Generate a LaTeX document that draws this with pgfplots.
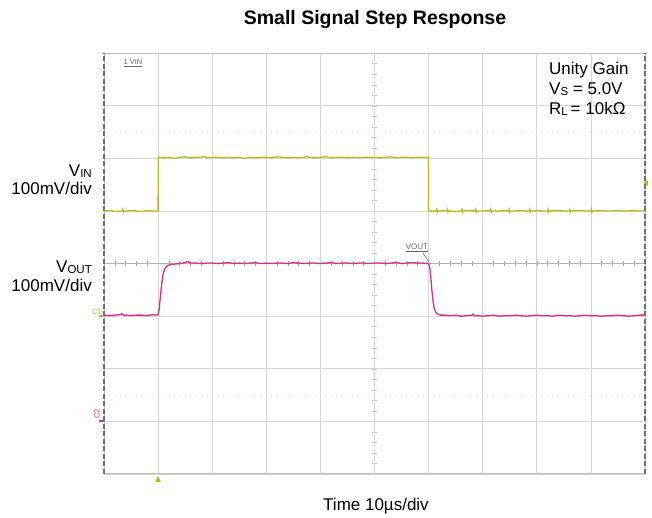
\documentclass[border=0pt]{standalone}
\usepackage{pgfplots}
\pgfplotsset{compat=1.18}
\usepackage{fontspec}
\setmainfont{Liberation Sans}
\definecolor{vin}{RGB}{185,185,25}
\definecolor{vout}{RGB}{228,40,140}
\definecolor{gridc}{RGB}{214,214,214}
\definecolor{bord}{RGB}{110,110,110}

\begin{document}
\begin{tikzpicture}
\path[use as bounding box] (-104pt,-44pt) rectangle (548pt,474pt);
\begin{scope}[x=54.1pt,y=52.6pt]
  \draw[gray!35, line width=0.9pt, dash pattern=on 0.9pt off 4.5pt] (0,6.5)--(10,6.5);
  \draw[gray!35, line width=0.9pt, dash pattern=on 0.9pt off 4.5pt] (0,1.5)--(10,1.5);
  \foreach \i in {0.2,0.4,...,9.9} {\draw[gray!75, line width=0.6pt] (\i,3.95)--(\i,4.05);}
  \foreach \j in {0.2,0.4,...,7.9} {\draw[gray!50, line width=0.5pt] (4.96,\j)--(5.04,\j);}
\end{scope}
\begin{axis}[at={(0pt,0pt)}, anchor=origin, x=54.1pt, y=52.6pt,
  xmin=0, xmax=10, ymin=0, ymax=8,
  xtick={0,...,10}, ytick={0,...,8}, xticklabels={}, yticklabels={},
  major tick length=0pt, grid=major,
  grid style={gridc, line width=0.8pt},
  axis line style={gridc!70!gray, line width=1pt},
  clip=false]
\draw[gray!60, line width=0.7pt] (axis cs:0,4)--(axis cs:10,4);
\draw[bord, line width=1.1pt, dash pattern=on 5pt off 2.5pt] (axis cs:0,0)--(axis cs:0,8);
\draw[bord, line width=1.1pt, dash pattern=on 5pt off 2.5pt] (axis cs:10,0)--(axis cs:10,8);
% V_IN
\addplot[vin, line width=1.3pt] coordinates {
(0,5.00)(0.1,5.01)(0.2,4.99)(0.3,5.00)(0.34,5.00)(0.35,5.03)(0.36,4.98)(0.37,5.00)(0.4,5.00)(0.5,5.01)(0.6,5.00)(0.7,4.99)(0.8,5.01)(0.9,5.00)(0.995,5.00)
(1.0,5.00)(1.003,6.02)
(1.05,6.02)(1.1,6.01)(1.2,6.02)(1.3,6.00)(1.4,6.02)(1.5,6.03)(1.6,6.01)(1.7,6.02)(1.8,6.02)(1.85,6.04)(1.9,6.01)(2.0,6.02)
(2.1,6.02)(2.2,6.01)(2.3,6.02)(2.4,6.01)(2.5,6.02)(2.6,6.00)(2.7,6.02)(2.8,6.01)(2.9,6.02)(3.0,6.02)
(3.1,6.01)(3.2,6.03)(3.3,6.02)(3.4,6.01)(3.5,6.02)(3.6,6.01)(3.7,6.02)(3.75,6.035)(3.8,6.02)(3.9,6.01)(4.0,6.02)
(4.1,6.03)(4.2,6.01)(4.3,6.02)(4.4,6.02)(4.5,6.01)(4.6,6.02)(4.7,6.01)(4.8,6.02)(4.9,6.02)(5.0,6.02)
(5.1,6.01)(5.2,6.02)(5.3,6.03)(5.4,6.01)(5.5,6.02)(5.6,6.02)(5.7,6.01)(5.8,6.02)(5.9,6.02)(5.997,6.02)
(6.0,5.00)
(6.1,5.00)(6.14,5.00)(6.15,5.03)(6.16,4.98)(6.17,5.00)(6.3,5.01)(6.34,5.00)(6.35,5.03)(6.36,4.98)(6.37,5.00)
(6.5,4.99)(6.6,5.00)(6.62,5.03)(6.63,4.98)(6.64,5.00)(6.8,5.01)(6.86,5.00)(6.87,5.03)(6.88,4.98)(6.89,5.00)
(7.0,5.00)(7.1,5.01)(7.14,5.00)(7.15,5.03)(7.16,4.98)(7.17,5.00)(7.3,5.00)(7.4,5.01)(7.48,5.00)(7.49,5.03)(7.50,4.98)(7.51,5.00)
(7.6,5.00)(7.7,5.01)(7.8,5.00)(7.86,5.00)(7.87,5.03)(7.88,4.98)(7.89,5.00)(8.0,5.01)(8.1,5.00)(8.2,5.00)(8.21,5.03)(8.22,4.98)(8.23,5.00)
(8.4,5.01)(8.5,5.00)(8.6,5.00)(8.61,5.03)(8.62,4.98)(8.63,5.00)(8.8,5.01)(8.9,5.00)(9.0,5.00)(9.01,5.03)(9.02,4.98)(9.03,5.00)
(9.2,5.01)(9.3,5.00)(9.4,5.00)(9.5,5.01)(9.6,5.00)(9.7,5.00)(9.8,5.01)(9.9,5.00)(10,5.00)
};
% V_OUT
\addplot[vout, line width=1.3pt] coordinates {
(0,3.02)(0.1,3.01)(0.2,3.02)(0.3,3.03)(0.33,3.05)(0.36,3.02)(0.4,3.02)(0.5,3.01)(0.6,3.02)(0.7,3.02)(0.8,3.01)(0.9,3.03)(0.98,3.02)
(1.0,3.04)(1.02,3.12)(1.04,3.35)(1.06,3.56)(1.08,3.72)(1.10,3.83)(1.13,3.91)(1.17,3.96)(1.22,3.98)(1.3,3.99)(1.4,4.00)(1.5,4.02)(1.55,4.04)(1.6,4.01)
(1.7,4.01)(1.8,4.00)(1.9,4.01)(2.0,4.01)(2.1,4.00)(2.2,4.01)(2.3,4.02)(2.4,4.00)(2.5,4.01)(2.6,4.00)(2.7,4.01)(2.8,4.02)(2.9,4.00)(3.0,4.01)
(3.1,4.00)(3.2,4.01)(3.3,4.01)(3.4,4.00)(3.5,4.02)(3.6,4.01)(3.7,4.00)(3.8,4.01)(3.9,4.01)(4.0,4.00)(4.1,4.01)(4.2,4.02)(4.3,4.00)(4.4,4.01)
(4.5,4.01)(4.6,4.00)(4.7,4.01)(4.8,4.01)(4.9,4.00)(5.0,4.01)(5.1,4.01)(5.2,4.00)(5.3,4.01)(5.4,4.02)(5.5,4.00)(5.6,4.01)(5.7,4.02)(5.8,4.01)(5.9,4.01)
(6.0,4.00)(6.02,3.94)(6.04,3.75)(6.06,3.50)(6.08,3.30)(6.10,3.17)(6.13,3.08)(6.17,3.04)(6.22,3.02)(6.3,3.02)(6.4,3.01)(6.5,3.02)(6.6,3.00)
(6.7,3.01)(6.8,3.02)(6.82,3.04)(6.84,3.01)(6.9,3.01)(7.0,3.00)(7.1,3.01)(7.2,3.02)(7.3,3.00)(7.4,3.01)(7.5,3.01)(7.6,3.02)(7.7,3.01)
(7.8,3.00)(7.9,3.01)(8.0,3.02)(8.1,3.01)(8.2,3.01)(8.3,3.00)(8.4,3.02)(8.5,3.01)(8.6,3.01)(8.7,3.00)(8.8,3.01)(8.9,3.02)(9.0,3.01)
(9.1,3.01)(9.2,3.00)(9.3,3.01)(9.4,3.01)(9.5,3.02)(9.6,3.01)(9.7,3.00)(9.8,3.01)(9.9,3.02)(10,3.02)
};
\end{axis}
% title and axis label
\node[font=\bfseries\fontsize{19.5}{22}\selectfont] at (271pt,454pt) {Small Signal Step Response};
\node[font=\fontsize{17}{20}\selectfont] at (272pt,-32pt) {Time 10µs/div};
% right text
\begin{scope}[every node/.style={anchor=base west, inner sep=0pt, font=\fontsize{17}{20}\selectfont}]
\node at (445pt,399pt) {Unity Gain};
\node at (445pt,379pt) {V\raisebox{-1pt}{\fontsize{11.5}{12}\selectfont S} = 5.0V};
\node at (445pt,359pt) {R\raisebox{-1pt}{\fontsize{11.5}{12}\selectfont L}\,= 10kΩ};
\end{scope}
% left labels
\begin{scope}[every node/.style={anchor=base east, inner sep=0pt, font=\fontsize{17}{20}\selectfont}]
\node at (-12pt,297pt) {V\raisebox{-1pt}{\fontsize{11.5}{12}\selectfont IN}};
\node at (-12pt,279pt) {100mV/div};
\node at (-12pt,201pt) {V\raisebox{-1pt}{\fontsize{11.5}{12}\selectfont OUT}};
\node at (-12pt,182pt) {100mV/div};
\end{scope}
% scope annotations
\node[font=\fontsize{7.5}{8}\selectfont, text=gray!80!black, inner sep=0.5pt] (a1) at (29pt,411pt) {\underline{1 VIN}};
\node[font=\fontsize{8}{9}\selectfont, text=gray!80!black, inner sep=0.5pt] (a2) at (313pt,226pt) {\underline{VOUT}};
\draw[gray!80!black, line width=0.6pt] (319pt,221pt) -- (325pt,212pt);
\node[font=\fontsize{7.5}{8}\selectfont, text=vin, inner sep=0pt] at (-7pt,162pt) {C1};
\draw[vin, line width=1.2pt] (-5pt,158pt) -- (0pt,158pt);
\node[font=\fontsize{7.5}{8}\selectfont, text=vout, inner sep=0pt, rotate=90] at (-7pt,60pt) {C2};
\draw[vout, line width=1.4pt] (-5pt,53pt) -- (0pt,53pt);
\fill[vin] (51pt,-8pt) -- (57pt,-8pt) -- (54pt,-2pt) -- cycle;
\fill[vin] (544pt,288pt) -- (544pt,294pt) -- (539pt,291pt) -- cycle;
\end{tikzpicture}
\end{document}
